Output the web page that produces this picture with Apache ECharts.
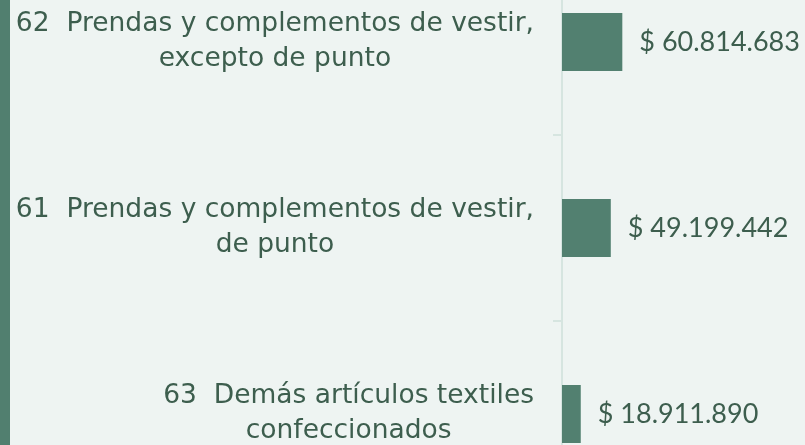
<!DOCTYPE html>
<html>
<head>
<meta charset="utf-8">
<script src="https://cdn.jsdelivr.net/npm/echarts@6/dist/echarts.min.js"></script>
<style>
  html, body { margin: 0; padding: 0; background: #eef4f2; overflow: hidden; }
  body { width: 805px; height: 445px; position: relative; }
  /* el gráfico original queda recortado arriba y abajo */
  #bar { position: absolute; left: 0; top: -51px; width: 805px; height: 558px; }
</style>
</head>
<body>
<div id="bar"></div>
<script>
// capítulos arancelarios (de arriba a abajo)
var categories = [
    '62  Prendas y complementos de vestir,\nexcepto de punto',
    '61  Prendas y complementos de vestir,\nde punto',
    '63  Demás artículos textiles\nconfeccionados'
];
var values = [60814683, 49199442, 18911890];

var textColor = '#3d5e4e';
var barColor = '#528070';

function fmtMoney(v) {
    return '$ ' + String(Math.round(v)).replace(/\B(?=(\d{3})+(?!\d))/g, '.');
}

var dom = document.getElementById('bar');
var myChart = echarts.init(dom);

var option = {
    backgroundColor: '#eef4f2',
    animation: false,
    // franja verde a la izquierda
    graphic: [{
        type: 'rect',
        left: 0, top: 0,
        shape: { width: 10, height: 558 },
        style: { fill: '#517f6f' }
    }],
    grid: {
        left: 562,
        top: 0,
        right: 0,
        bottom: 0,
        containLabel: false
    },
    xAxis: {
        type: 'value',
        min: 0,
        max: 245000000,
        show: false
    },
    yAxis: {
        type: 'category',
        inverse: true,
        data: categories,
        axisLine: { lineStyle: { color: '#d6e5e0', width: 2 } },
        axisTick: { show: true, length: 9, lineStyle: { color: '#d6e5e0', width: 2 } },
        axisLabel: {
            margin: 28,
            align: 'right',
            color: textColor,
            fontFamily: 'DejaVu Sans',
            fontSize: 26.5,
            lineHeight: 35,
            formatter: function (v) {
                return v.split('\n').map(function (s) { return '{c|' + s + '}'; }).join('\n');
            },
            rich: {
                c: { align: 'center', color: textColor, fontFamily: 'DejaVu Sans', fontSize: 26.5, lineHeight: 35 }
            }
        }
    },
    series: [{
        type: 'bar',
        data: values,
        barWidth: 58,
        itemStyle: { color: barColor },
        label: {
            show: true,
            position: 'right',
            distance: 17,
            color: textColor,
            fontFamily: 'Lato',
            fontSize: 27,
            formatter: function (p) { return fmtMoney(p.value); }
        }
    }]
};
myChart.setOption(option, true);
</script>
</body>
</html>
